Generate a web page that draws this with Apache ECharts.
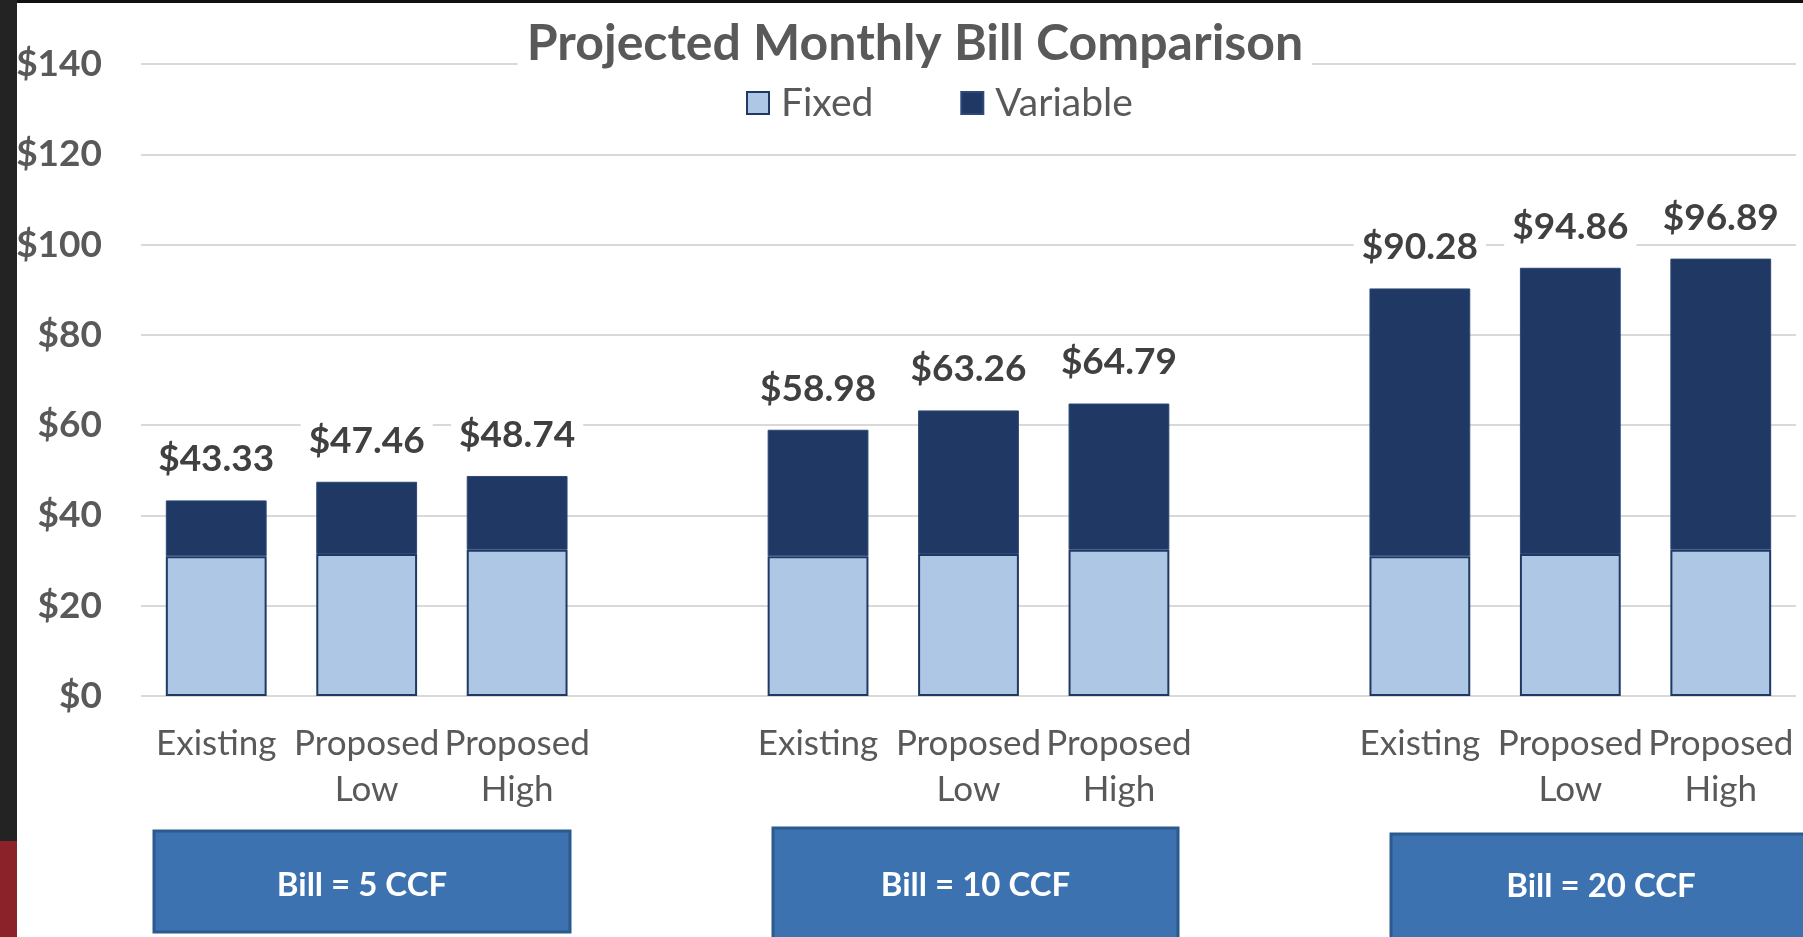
<!DOCTYPE html>
<html><head><meta charset="utf-8">
<script src="https://cdn.jsdelivr.net/npm/echarts@6/dist/echarts.min.js"></script>
<style>html,body{margin:0;padding:0;background:#fff}#c{width:1803px;height:937px}</style>
</head><body><div id="c"></div>
<script>
// ---- data ----
const categories = ['Existing','Proposed\nLow','Proposed\nHigh','','Existing','Proposed\nLow','Proposed\nHigh','','Existing','Proposed\nLow','Proposed\nHigh'];
const fixedValues = [30.95, 31.45, 32.40, null, 30.95, 31.45, 32.40, null, 30.95, 31.45, 32.40];
const variableValues = [12.38, 16.01, 16.34, null, 28.03, 31.81, 32.39, null, 59.33, 63.41, 64.49];
const totalLabels = ['$43.33','$47.46','$48.74','','$58.98','$63.26','$64.79','','$90.28','$94.86','$96.89'];
const seriesNames = ['Fixed','Variable'];
const groupLabels = ['Bill = 5 CCF','Bill = 10 CCF','Bill = 20 CCF'];
const yMin = 0, yMax = 140, yStep = 20;
const titleText = 'Projected Monthly Bill Comparison';

// ---- styling ----
const FONT = 'Lato';
const GRAY = '#595959';
const boxes = [
  {x:154, y:831, w:416, h:101, ty:54},
  {x:773, y:828, w:405, h:115, ty:57},
  {x:1391, y:834, w:420, h:110, ty:52}
];

const chart = echarts.init(document.getElementById('c'), null, {renderer:'canvas'});
const graphics = [
  {type:'rect', shape:{x:0,y:0,width:17,height:841}, style:{fill:'#232323'}, z:100},
  {type:'rect', shape:{x:0,y:841,width:17,height:96}, style:{fill:'#8B2229'}, z:100},
  {type:'rect', shape:{x:17,y:0,width:1786,height:3}, style:{fill:'#111111'}, z:100}
];
boxes.forEach((b,i)=>{
  graphics.push({type:'rect', shape:{x:b.x,y:b.y,width:b.w,height:b.h},
    style:{fill:'#3C72B0', stroke:'#2B5A8E', lineWidth:3}, z:50});
  graphics.push({type:'text', x:b.x+b.w/2, y:b.y+b.ty, z:51,
    style:{text:groupLabels[i], fill:'#ffffff', font:'bold 33px ' + FONT, textAlign:'center', textVerticalAlign:'middle'}});
});

chart.setOption({
  animation:false,
  backgroundColor:'#ffffff',
  title:{
    text:titleText, left:906, top:10, textAlign:'center',
    padding:[4,9,4,9], backgroundColor:'#ffffff',
    textStyle:{fontFamily:FONT, fontWeight:'bold', fontSize:50, color:GRAY, lineHeight:60}
  },
  legend:{
    data:seriesNames, left:741, top:78, itemWidth:22, itemHeight:22, itemGap:87,
    icon:'rect',
    textStyle:{fontFamily:FONT, fontSize:39, color:GRAY, lineHeight:40, padding:[0,0,0,7]}
  },
  grid:{left:141, right:7, top:64, bottom:241, outerBoundsMode:'none', containLabel:false},
  xAxis:{
    type:'category', data:categories,
    axisLine:{show:false}, axisTick:{show:false},
    axisLabel:{interval:0, margin:25, fontFamily:FONT, fontSize:35, color:GRAY, lineHeight:46}
  },
  yAxis:{
    type:'value', min:yMin, max:yMax, interval:yStep,
    axisLine:{show:false}, axisTick:{show:false},
    splitLine:{lineStyle:{color:'#D9D9D9', width:2}},
    axisLabel:{margin:39, fontFamily:FONT, fontWeight:'bold', fontSize:37, color:GRAY,
      formatter:v=>'$'+v}
  },
  series:[
    {name:seriesNames[0], type:'bar', stack:'total', data:fixedValues, barWidth:'67%',
      itemStyle:{color:'#AEC7E4', borderColor:'#1F3864', borderWidth:2}},
    {name:seriesNames[1], type:'bar', stack:'total', data:variableValues, barWidth:'67%',
      itemStyle:{color:'#203864', borderColor:'#2C4878', borderWidth:1},
      label:{show:true, position:'top', distance:19,
        formatter:p=>totalLabels[p.dataIndex],
        fontFamily:FONT, fontWeight:'bold', fontSize:37, color:'#404040',
        backgroundColor:'#ffffff', padding:[2,8,2,8], lineHeight:40}}
  ],
  graphic:graphics
});
</script></body></html>
